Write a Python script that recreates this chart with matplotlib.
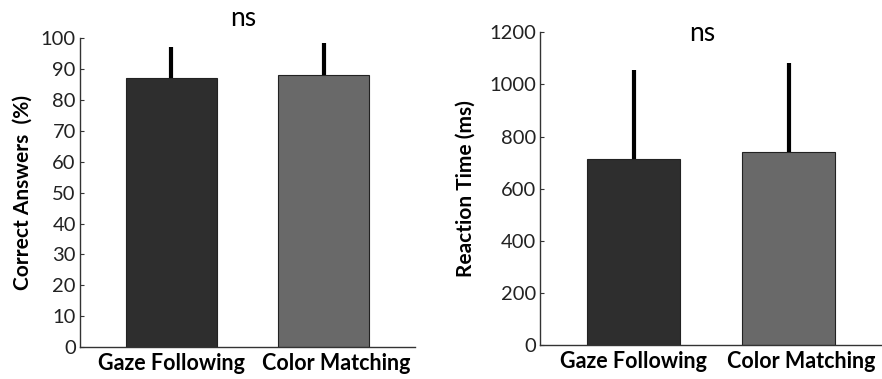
import matplotlib.pyplot as plt

# data
conditions = ["Gaze Following", "Color Matching"]
correct_mean = [87.2, 88.2]
correct_err = [10.1, 10.4]
rt_mean = [712, 739]
rt_err = [343, 342]
bar_colors = ["#2e2e2e", "#696969"]

plt.rcParams['font.family'] = ['Lato', 'DejaVu Sans']

fig = plt.figure(figsize=(8.82, 3.79), dpi=100)
ax1 = fig.add_axes([0.0907, 0.0844, 0.380, 0.8145])
ax2 = fig.add_axes([0.6126, 0.0897, 0.3874, 0.825])

x = [1, 2]
# the second label sits a little right of its bar in the original
label_x = [1, 2.08]


def draw(ax, means, errs, ylim, yticks, ylabel, lpad):
    ax.bar(x, means, width=0.6, color=bar_colors, edgecolor="#222222",
           linewidth=0.8, zorder=2)
    # upper error bars only, no caps
    ax.errorbar(x, means, yerr=[[0, 0], errs], fmt="none", ecolor="black",
                elinewidth=3, capsize=0, zorder=3)
    ax.set_xlim(0.4, 2.6)
    ax.set_ylim(*ylim)
    ax.set_yticks(yticks)
    ax.set_xticks(label_x)
    ax.set_xticklabels(conditions, fontsize=15.5, fontweight="bold")
    ax.tick_params(axis="x", length=0, pad=4)
    ax.tick_params(axis="y", direction="in", length=3, labelsize=14.5,
                   color="#333333", labelcolor="#222222", pad=3)
    ax.set_ylabel(ylabel, fontsize=15, fontweight="bold", labelpad=lpad)
    for s in ["top", "right"]:
        ax.spines[s].set_visible(False)
    for s in ["left", "bottom"]:
        ax.spines[s].set_color("#333333")
        ax.spines[s].set_linewidth(1)


draw(ax1, correct_mean, correct_err, (0, 100), range(0, 101, 10),
     "Correct Answers  (%)", 6)
draw(ax2, rt_mean, rt_err, (0, 1200), range(0, 1201, 200),
     "Reaction Time (ms)", 10)

ax1.text(1.47, 106.3, "ns", ha="center", va="center", fontsize=19)
ax2.text(1.44, 1195, "ns", ha="center", va="center", fontsize=19)

fig.savefig("out.png", dpi=100)
